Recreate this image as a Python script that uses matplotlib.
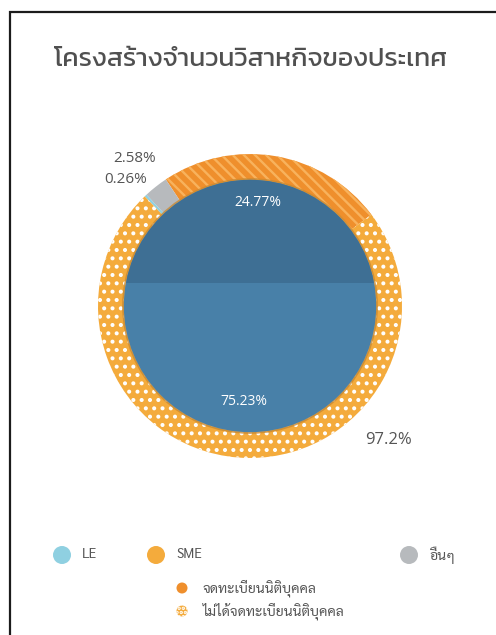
import matplotlib
matplotlib.use("Agg")
import matplotlib.pyplot as plt
from matplotlib import font_manager
from matplotlib.patches import Circle, Wedge, Rectangle

# data
groups = ["LE", "SME", "อื่นๆ"]
group_share = [0.26, 97.2, 2.58]
sme_types = ["จดทะเบียนนิติบุคคล", "ไม่ได้จดทะเบียนนิติบุคคล"]
sme_share = [24.77, 75.23]
title = "โครงสร้างจำนวนวิสาหกิจของประเทศ"

# colours
c_le = "#8fd0e1"
c_sme = "#f4ab3c"
c_other = "#b7babd"
c_reg = "#ef8f2c"
c_reg_stripe = "#f8b25c"
c_blue_top = "#3e6f94"
c_blue_bot = "#4880a8"
c_text = "#555555"

plt.rcParams["hatch.linewidth"] = 1.7


def pick(cands):
    names = {f.name for f in font_manager.fontManager.ttflist}
    for c in cands:
        if c in names:
            return c
    return "DejaVu Sans"


f_title = pick(["Kanit", "Prompt", "Mitr", "Athiti", "Bai Jamjuree"])
f_thai = pick(["Sarabun", "Noto Sans Thai", "Niramit", "Tahoma"])
f_latin = pick(["Open Sans", "Noto Sans", "DejaVu Sans"])

W, H = 496, 635
fig = plt.figure(figsize=(W / 100, H / 100), dpi=100)

# pie axes: centre (250, 306) px, outer radius 152 px
R = 152
lim = 1.25
side = 2 * lim * R
cx, cy = 250, 306
ax = fig.add_axes([(cx - side / 2) / W, (H - cy - side / 2) / H, side / W, side / H])
ax.set_xlim(-lim, lim)
ax.set_ylim(-lim, lim)
ax.set_aspect("equal")
ax.axis("off")

reg_val = group_share[1] * sme_share[0] / 100
unreg_val = group_share[1] * sme_share[1] / 100
ring_vals = [reg_val, group_share[2], group_share[0], unreg_val]
ring_cols = [c_reg, c_other, c_le, c_sme]
ring_w = 0.17
wedges, _ = ax.pie(ring_vals, colors=ring_cols, startangle=37, radius=1,
                   wedgeprops=dict(width=ring_w, linewidth=0))

# stripes on registered part, dots on unregistered part
reg_w, unreg_w = wedges[0], wedges[3]
ax.add_patch(Wedge((0, 0), 1, reg_w.theta1, reg_w.theta2, width=ring_w,
                   facecolor="none", edgecolor=c_reg_stripe, lw=0, hatch="\\\\\\"))
ax.add_patch(Wedge((0, 0), 1, unreg_w.theta1, unreg_w.theta2, width=ring_w,
                   facecolor="none", edgecolor="white", lw=0, hatch=".."))

# inner shadow rim
ax.add_patch(Circle((0, 0), 1 - ring_w, facecolor="none", edgecolor="#c98a33", lw=2.5, alpha=0.8))

# inner liquid circle
r_in = 0.83
level = 0.15
ax.add_patch(Circle((0, 0.0), r_in, facecolor=c_blue_bot, edgecolor="none"))
top = Circle((0, 0.0), r_in, facecolor=c_blue_top, edgecolor="none")
ax.add_patch(top)
top.set_clip_path(Rectangle((-1, level), 2, 2, transform=ax.transData))

ax.text(0.05, 0.68, f"{sme_share[0]}%", color="white", fontsize=10, ha="center", va="center",
        family=f_latin)
ax.text(-0.04, -0.63, f"{sme_share[1]}%", color="white", fontsize=10, ha="center", va="center",
        family=f_latin)
ax.text(-0.76, 0.97, f"{group_share[2]}%", color=c_text, fontsize=11, ha="center", va="center",
        family=f_latin)
ax.text(-0.82, 0.83, f"{group_share[0]}%", color=c_text, fontsize=11, ha="center", va="center",
        family=f_latin)
ax.text(0.91, -0.88, f"{group_share[1]}%", color=c_text, fontsize=12, ha="center", va="center",
        family=f_latin)

# overlay axes in pixel coords for frame, title, legend
ov = fig.add_axes([0, 0, 1, 1], facecolor="none")
ov.set_xlim(0, W)
ov.set_ylim(H, 0)
ov.axis("off")
ov.plot([10, 10, W + 5], [H + 5, 12, 12], color="#1c1c1c", lw=1.6, solid_joinstyle="miter")

ov.text(251, 60, title, fontsize=19, fontweight="normal", color="#505050", ha="center",
        va="center", family=[f_title, "DejaVu Sans"])

leg_cols = [c_le, c_sme, c_other]
leg_x = [62, 156, 409]
for x, name, col in zip(leg_x, groups, leg_cols):
    ov.add_patch(Circle((x, 555), 9, facecolor=col, edgecolor="none"))
    ov.text(x + 20, 555, name, fontsize=10, color=c_text, ha="left", va="center",
            family=[f_thai, f_latin])

sub_y = [588, 611]
ov.add_patch(Circle((182, sub_y[0]), 5.5, facecolor=c_reg, edgecolor="none"))
ov.add_patch(Circle((182, sub_y[1]), 5.5, facecolor=c_sme, edgecolor="none"))
ov.add_patch(Circle((182, sub_y[1]), 5.5, facecolor="none", edgecolor="white", lw=0, hatch="...."))
for y, name in zip(sub_y, sme_types):
    ov.text(203, y, name, fontsize=10, color=c_text, ha="left", va="center",
            family=[f_thai, "DejaVu Sans"])

fig.savefig("out.png", dpi=100)
